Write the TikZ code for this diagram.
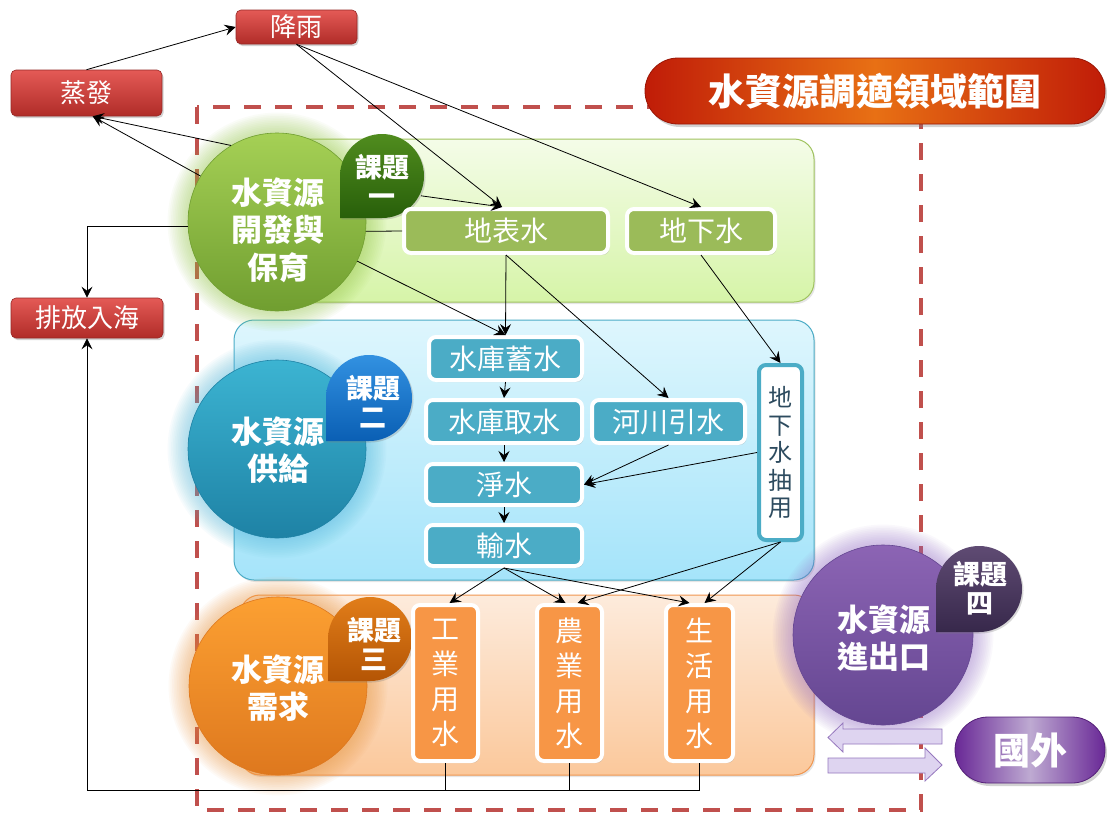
\documentclass[tikz,border=0pt]{standalone}
\usepackage{fontspec}
\setmainfont{Noto Sans CJK TC}
\usetikzlibrary{arrows.meta,calc,shadows}
\definecolor{dashred}{RGB}{192,80,77}
\definecolor{redT}{RGB}{228,90,86}
\definecolor{redB}{RGB}{176,44,40}
\definecolor{redD}{RGB}{150,40,38}
\definecolor{gbandT}{RGB}{244,252,232}
\definecolor{gbandB}{RGB}{214,244,168}
\definecolor{gbandD}{RGB}{160,195,95}
\definecolor{bbandT}{RGB}{222,246,253}
\definecolor{bbandB}{RGB}{165,228,250}
\definecolor{bbandD}{RGB}{75,172,198}
\definecolor{obandT}{RGB}{253,235,220}
\definecolor{obandB}{RGB}{251,200,155}
\definecolor{obandD}{RGB}{240,150,80}
\definecolor{gboxc}{RGB}{155,187,89}
\definecolor{bboxc}{RGB}{75,172,198}
\definecolor{oboxc}{RGB}{247,150,70}
\definecolor{gcT}{RGB}{165,208,85}
\definecolor{gcB}{RGB}{112,158,48}
\definecolor{gcG}{RGB}{150,200,70}
\definecolor{gbT}{RGB}{80,140,30}
\definecolor{gbB}{RGB}{40,95,10}
\definecolor{bcT}{RGB}{60,180,210}
\definecolor{bcB}{RGB}{30,130,165}
\definecolor{bcG}{RGB}{80,185,220}
\definecolor{bbT}{RGB}{50,145,225}
\definecolor{bbB}{RGB}{10,95,180}
\definecolor{ocT}{RGB}{252,160,50}
\definecolor{ocB}{RGB}{222,120,30}
\definecolor{ocG}{RGB}{240,150,60}
\definecolor{obT}{RGB}{225,125,25}
\definecolor{obB}{RGB}{180,85,5}
\definecolor{pcT}{RGB}{140,100,180}
\definecolor{pcB}{RGB}{100,70,145}
\definecolor{pcG}{RGB}{150,110,200}
\definecolor{pbT}{RGB}{95,75,115}
\definecolor{pbB}{RGB}{55,40,75}
\definecolor{ttlE}{RGB}{192,28,8}
\definecolor{ttlM}{RGB}{232,112,20}
\definecolor{gwE}{RGB}{105,40,150}
\definecolor{gwM}{RGB}{190,170,210}
\definecolor{parF}{RGB}{222,212,240}
\definecolor{parD}{RGB}{150,120,190}
\definecolor{dxText}{RGB}{45,75,95}
\newcommand\myglow[3]{\foreach \k in {1,...,12}{\fill[#3,opacity=0.045] (#1) circle[radius=#2+\k*1.7];}}
\newcommand\mybubble[4]{\shade[top color=#3,bottom color=#4,drop shadow={shadow xshift=1.5pt,shadow yshift=-1.5pt,opacity=0.3}] ($(#1)+(-#2,#2)$) -- ($(#1)+(-#2,0)$) arc[start angle=180,end angle=450,radius=#2] -- cycle;}
\begin{document}
\begin{tikzpicture}[x=1pt,y=-1pt,
  arr/.style={-{Stealth[length=11pt,width=11pt,inset=4pt]},line width=0.8pt},
  link/.style={line width=0.8pt},
  band/.style={rounded corners=20pt,line width=1pt,drop shadow={shadow xshift=1.5pt,shadow yshift=-2pt,opacity=0.2}},
  redbox/.style={rectangle,rounded corners=5pt,top color=redT,bottom color=redB,draw=redD,line width=0.6pt,text=white,font=\fontsize{26}{30}\selectfont,inner sep=0pt,drop shadow={shadow xshift=1.5pt,shadow yshift=-2pt,opacity=0.35}},
  wbox/.style={rectangle,rounded corners=7pt,draw=white,line width=4pt,text=white,font=\fontsize{28}{32}\selectfont,inner sep=0pt,align=center,drop shadow={shadow xshift=1.5pt,shadow yshift=-2pt,opacity=0.3}},
  circ/.style={circle,minimum size=178pt,inner sep=0pt,line width=0.6pt},
  ctext/.style={text=white,font=\bfseries\fontsize{31}{37.5}\selectfont,align=center,inner sep=0pt},
  btext/.style={circle,text=white,font=\bfseries\fontsize{27}{29}\selectfont,align=center,inner sep=0pt,minimum size=84pt}]
\fill[white] (0,0) rectangle (1107,814);
\useasboundingbox (0,0) rectangle (1107,814);
% dashed frame
\draw[dashred,line width=4pt,dash pattern=on 17pt off 14pt] (197,107) rectangle (921,810);
% bands
\draw[band,top color=gbandT,bottom color=gbandB,draw=gbandD] (234,139) rectangle (814,302);
\draw[band,top color=bbandT,bottom color=bbandB,draw=bbandD] (234,320) rectangle (814,580);
\draw[band,top color=obandT,bottom color=obandB,draw=obandD] (240,595) rectangle (814,775);
% red boxes
\node[redbox,minimum width=121pt,minimum height=34pt] (jy) at (296.5,27) {降雨};
\node[redbox,minimum width=151pt,minimum height=46pt] (zf) at (86.5,93) {蒸發};
\node[redbox,minimum width=152pt,minimum height=40pt] (pf) at (87,318) {排放入海};
% glows
\myglow{277,222}{89}{gcG}
\myglow{277,449}{89}{bcG}
\myglow{278,686}{89}{ocG}
\myglow{883,635}{90}{pcG}
% circles
\node[circ,top color=gcT,bottom color=gcB,draw=gcB] (c1) at (277,222) {};
\node[ctext] (c1t) at (278,230) {水資源\\開發與\\保育};
\node[circ,top color=bcT,bottom color=bcB,draw=bcB] (c2) at (277,449) {};
\node[ctext] (c2t) at (278,450) {水資源\\供給};
\node[circ,top color=ocT,bottom color=ocB,draw=ocB] (c3) at (278,686) {};
\node[ctext] (c3t) at (278,688) {水資源\\需求};
\node[circ,minimum size=180pt,top color=pcT,bottom color=pcB,draw=pcB] (c4) at (883,635) {};
\node[ctext] (c4t) at (884,638) {水資源\\進出口};
% bubbles
\mybubble{382,176}{42}{gbT}{gbB}
\node[btext] (b1) at (382,180) {課題\\一};
\mybubble{369,398}{43}{bbT}{bbB}
\node[btext] (b2) at (373,402) {課題\\二};
\mybubble{370,639}{42}{obT}{obB}
\node[btext] (b3) at (374,644) {課題\\三};
\mybubble{979,589}{43}{pbT}{pbB}
\node[btext] (b4) at (980,588) {課題\\四};
% title
\node[rectangle,rounded corners=33pt,minimum width=460pt,minimum height=66pt,left color=ttlE,right color=ttlE,middle color=ttlM,draw=ttlE!80!black,line width=0.8pt,text=white,font=\bfseries\fontsize{37}{40}\selectfont,drop shadow={shadow xshift=2pt,shadow yshift=-3pt,opacity=0.35}] (ttl) at (875,91) {水資源調適領域範圍};
\node[rectangle,rounded corners=33pt,minimum width=150pt,minimum height=66pt,left color=gwE,right color=gwE,middle color=gwM,draw=gwE!80!black,line width=0.8pt,text=white,font=\bfseries\fontsize{37}{40}\selectfont,drop shadow={shadow xshift=2pt,shadow yshift=-3pt,opacity=0.35}] (gw) at (1030,750) {國外};
% in/out arrows
\filldraw[fill=parF,draw=parD,line width=0.8pt] (942,729) -- (843,729) -- (843,723) -- (828,737.5) -- (843,752) -- (843,744) -- (942,744) -- cycle;
\filldraw[fill=parF,draw=parD,line width=0.8pt] (828,758) -- (925,758) -- (925,748) -- (942,765) -- (925,781) -- (925,773) -- (828,773) -- cycle;
% green boxes
\node[wbox,fill=gboxc,minimum width=204pt,minimum height=44pt] (dbs) at (506,231) {地表水};
\node[wbox,fill=gboxc,minimum width=148pt,minimum height=44pt] (dxs) at (701,231) {地下水};
% blue boxes
\node[wbox,fill=bboxc,minimum width=153pt,minimum height=43pt] (skx) at (505.5,358.5) {水庫蓄水};
\node[wbox,fill=bboxc,minimum width=156pt,minimum height=43pt] (qs) at (504,421.5) {水庫取水};
\node[wbox,fill=bboxc,minimum width=153pt,minimum height=43pt] (hc) at (668.5,421.5) {河川引水};
\node[wbox,fill=bboxc,minimum width=156pt,minimum height=41pt] (js) at (504,484.5) {淨水};
\node[wbox,fill=bboxc,minimum width=156pt,minimum height=41pt] (ss) at (504,545.5) {輸水};
\node[wbox,fill=white,draw=bboxc,text=dxText,minimum width=43pt,minimum height=175pt,font=\fontsize{24}{27.5}\selectfont] (dxcy) at (780.5,452.5) {地\\下\\水\\抽\\用};
% orange boxes
\node[wbox,fill=oboxc,minimum width=65pt,minimum height=156pt,font=\fontsize{28}{35}\selectfont] (gy) at (445.5,683) {工\\業\\用\\水};
\node[wbox,fill=oboxc,minimum width=65pt,minimum height=156pt,font=\fontsize{28}{35}\selectfont] (ny) at (569.5,683) {農\\業\\用\\水};
\node[wbox,fill=oboxc,minimum width=67pt,minimum height=156pt,font=\fontsize{28}{35}\selectfont] (sh) at (699.5,683) {生\\活\\用\\水};
% connectors
\draw[arr] (zf.north) -- (jy.west);
\draw[arr] (c1.121) -- (zf.-75);
\draw[arr] (c1.149) -- (zf.-75);
\draw[arr] (jy.south) -- ($(dbs.north)+(-4,0)$);
\draw[arr] (b1.-22) -- ($(dbs.north)+(-4,0)$);
\draw[arr] (jy.south) -- (dxs.north);
\draw[arr] (c1.183) -| (pf.north);
\draw[link] (c1.-6) -- (dbs.west);
\draw[arr] (c1.-26) -- (skx.north);
\draw[arr] (dbs.south) -- (skx.north);
\draw[arr] (dbs.south) -- (hc.north);
\draw[arr] (dxs.south) -- (dxcy.north);
\draw[arr] (skx.south) -- (qs.north);
\draw[arr] (qs.south) -- (js.north);
\draw[arr] (js.south) -- (ss.north);
\draw[arr] (hc.south) -- (js.east);
\draw[arr] (dxcy.west) -- (js.east);
\draw[arr] (ss.south) -- ($(gy.north)+(4,0)$);
\draw[arr] (ss.south) -- ($(ny.north)+(-4,0)$);
\draw[arr] (ss.south) -- ($(sh.north)+(-10,0)$);
\draw[arr] (dxcy.south) -- ($(ny.north)+(8,0)$);
\draw[arr] (dxcy.south) -- ($(sh.north)+(5,0)$);
\draw[link] (gy.south) -- ++(0,27);
\draw[link] (ny.south) -- ++(0,27);
\draw[arr] (sh.south) -- ++(0,27) -| (pf.south);
\end{tikzpicture}
\end{document}
